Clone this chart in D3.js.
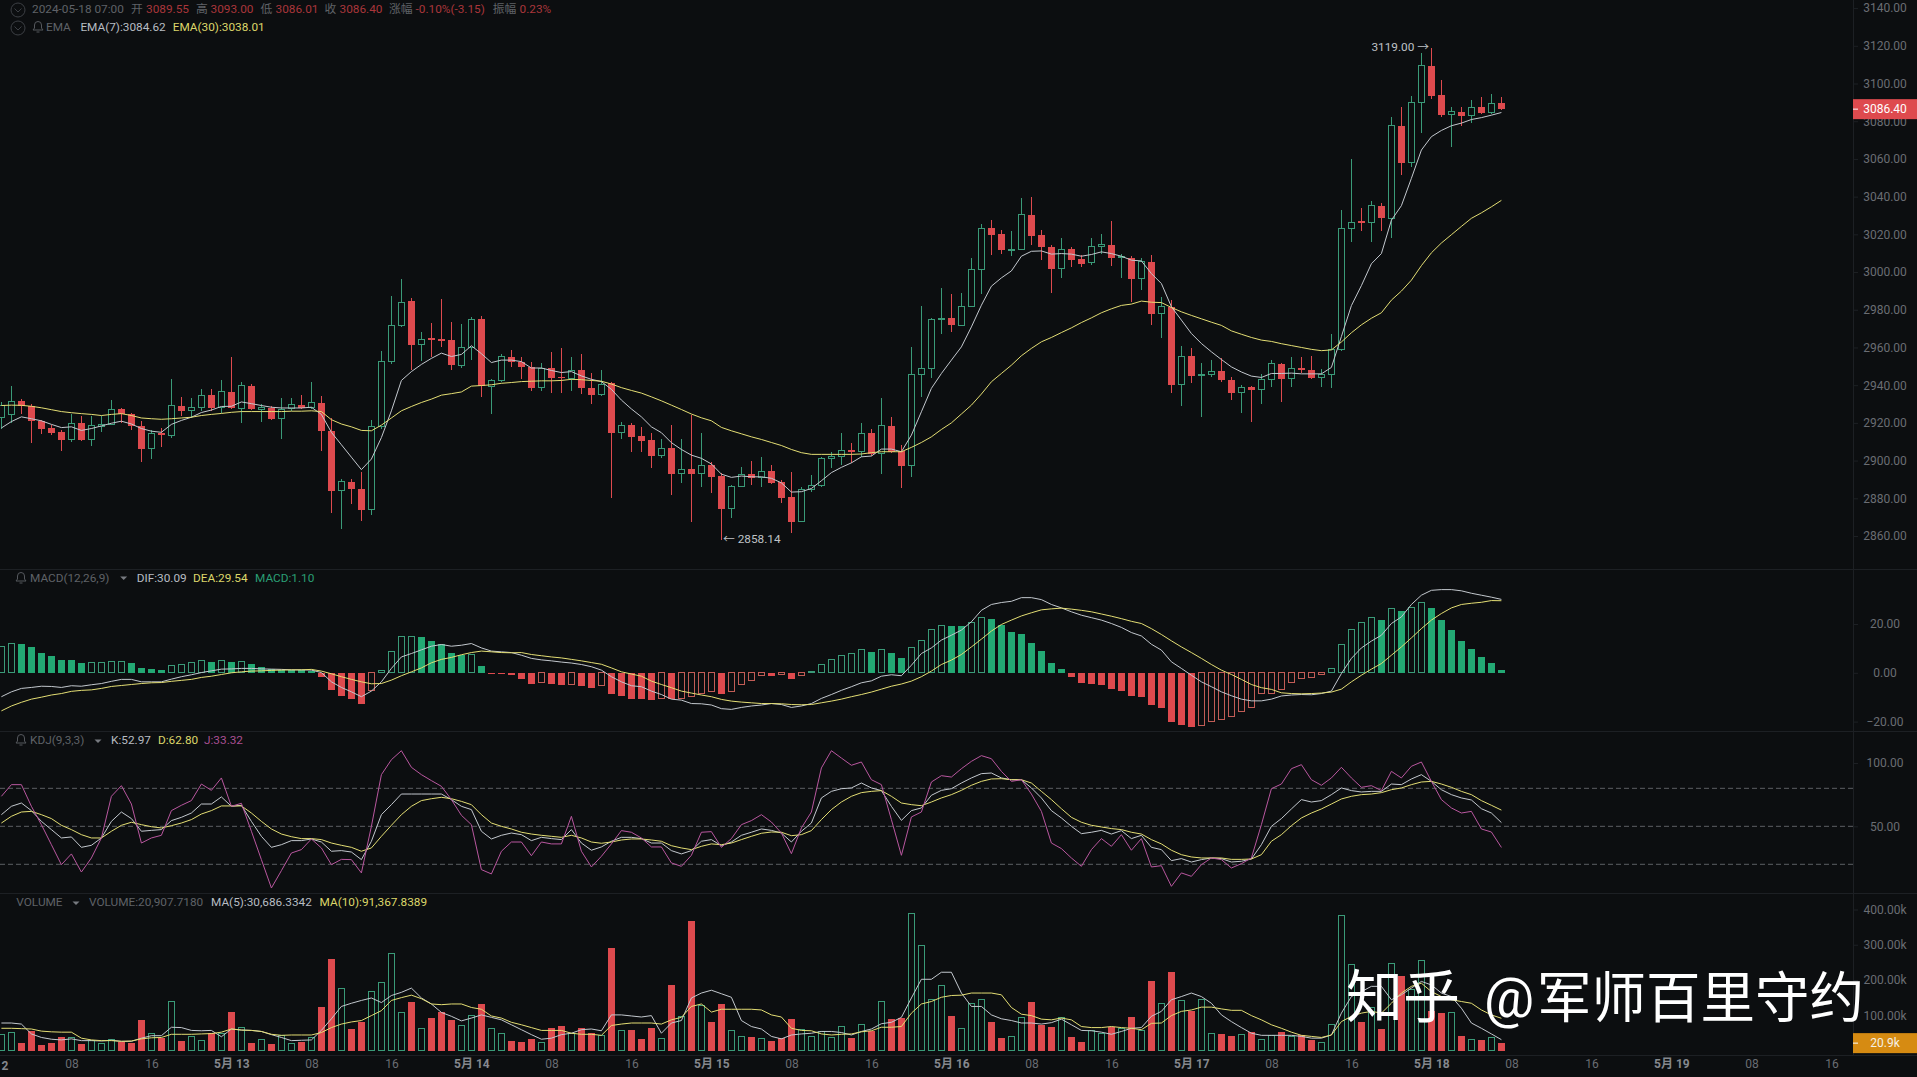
<!DOCTYPE html>
<html>
<head>
<meta charset="utf-8">
<title>ETH 1h</title>
<script src="https://cdn.jsdelivr.net/npm/d3@7"></script>
<style>
	html, body { margin: 0; padding: 0; background: #0c0e10; overflow: hidden; }
	text { font-family: Roboto, "Noto Sans CJK SC", sans-serif; }
</style>
</head>
<body>
<svg id="chart" width="1917" height="1077"></svg>
<script>
/*global d3 */
// hourly candles, index 0 is 05-12 01:00, index 150 is 05-18 07:00
var opens = [
	2922.6,2924.5,2931.5,2928.8,2921.1,2917.1,2915.0,2911.1,2919.8,2911.1,
	2918.2,2919.2,2927.1,2924.5,2918.4,2906.3,2914.7,2913.5,2929.2,2926.4,
	2927.9,2934.7,2928.3,2936.6,2927.7,2939.8,2927.1,2928.1,2922.4,2927.7,
	2929.6,2927.9,2930.8,2915.8,2884.2,2888.9,2884.7,2874,2917.9,2952.3,
	2971.4,2984.5,2961.4,2964.8,2964.3,2963.7,2950.6,2959.9,2975,2939.3,
	2942.3,2955.2,2952.5,2949.5,2938.7,2949.1,2944.4,2943.8,2947.8,2938.7,
	2934.9,2941,2914.7,2918.8,2913,2910.9,2902.6,2906.5,2893,2895.3,
	2893,2897.6,2891.8,2874.5,2886.3,2892.7,2891.1,2894.3,2888.4,2880.5,
	2867.6,2884.4,2886.8,2901,2902.4,2905.6,2904.7,2914.4,2903.8,2918.6,
	2905,2897.3,2945.7,2948.9,2974.8,2975.4,2971.8,2981.6,3001.3,3023.1,
	3020,3011.6,3011.9,3030.5,3019.5,3013.4,3001.7,3012.1,3006.8,3004.9,
	3013.7,3014.6,3007.5,3007.7,2996.4,3005.4,2978,2981.5,2940.2,2955.4,
	2945,2945.5,2947.4,2943,2936.1,2938.8,2937.7,2943,2951.4,2943.3,
	2948.9,2948.3,2944.1,2945.6,2958.7,3023.1,3026.9,3026.2,3035.2,3028.5,
	3077.6,3058,3089.8,3109.4,3094,3083.8,3085.1,3082.8,3087.3,3084.4,3089.55
];
var closes = [
	2929.2,2931.1,2929.2,2921.1,2916.9,2914.7,2910.9,2919.6,2910.9,2918.4,
	2919.2,2927,2924.5,2918.4,2906.1,2914.5,2913.7,2929.2,2926.4,2928.1,
	2934.3,2927.7,2936.6,2927.9,2939.8,2927.1,2928.1,2922.2,2927.3,2929.6,
	2927.9,2930.6,2915.8,2883.8,2888.9,2884.7,2874,2917.9,2952.3,2971.4,
	2984.1,2961.4,2964.3,2963.9,2963.3,2950.6,2959.9,2974.7,2939.3,2942.3,
	2955.2,2952.5,2949.5,2938.7,2949.1,2943.8,2943.8,2947.6,2938.3,2934.9,
	2940.6,2914.7,2918.4,2912.6,2910.3,2902.6,2906.5,2892.8,2895.3,2892.8,
	2897.4,2891.4,2874.5,2886.3,2892.5,2890.9,2894.1,2888.2,2880,2867.6,
	2884.4,2886.8,2901.1,2902.2,2905.2,2904.5,2914.4,2903.5,2918.6,2904.7,
	2897.3,2945.7,2948.9,2975,2975.4,2971.8,2981.7,3001.3,3023.1,3019.7,
	3011.6,3012.1,3030.5,3019,3013.4,3001.7,3011.9,3006.6,3004.5,3013.4,
	3014.6,3007.5,3008.4,2996.4,3005.4,2977.7,2981.5,2940,2955,2944.8,
	2945.7,2947.3,2942.7,2936.1,2939,2937.7,2942.9,2951.4,2943.1,2948.7,
	2947.9,2943.7,2945.6,2959.1,3023.1,3026.2,3026.2,3035.2,3028.5,3077.6,
	3058,3089.8,3109.4,3093.6,3083.4,3084.9,3082.8,3087.1,3084.4,3089.2,3086.4
];
var highs = [
	2931,2939.6,2932.4,2930,2921.5,2918.8,2916,2924.5,2923.6,2923.6,
	2923.6,2932,2928,2925.4,2921.1,2916,2917.3,2943.4,2933.6,2933,
	2937.8,2938.1,2943,2954.8,2941.9,2940.6,2930.2,2929.2,2933,2933,
	2934.9,2941.9,2934,2922.6,2890,2890,2893.8,2921.7,2958.2,2987.4,
	2996.4,2986,2968,2972.8,2985.8,2973.3,2972.2,2976,2976.6,2943.4,
	2956.7,2958.9,2955.2,2952.5,2952,2957.6,2959.5,2954.8,2956.3,2946.3,
	2948.2,2941.6,2920.3,2919.8,2917.9,2914.4,2911.2,2918.8,2911.2,2924.1,
	2914.4,2899.4,2893.2,2887,2896.7,2899.9,2902,2897.6,2889.7,2894.1,
	2886.1,2892.3,2902,2904.7,2914.4,2909.5,2920.1,2917,2933,2922.9,
	2908.2,2960,2981.9,2975.4,2991.8,2988.6,2989,3007.7,3025.4,3027.8,
	3022.5,3021.8,3039.5,3039.9,3022.2,3014.2,3017.8,3013.4,3008.9,3018.1,
	3020.4,3027.1,3009.5,3008.4,3007.7,3008.9,2986.5,2985,2960.7,2959.5,
	2951.5,2953.6,2954.2,2944.1,2940,2939.5,2945.9,2953.3,2951.8,2955.2,
	2954.8,2955.6,2948.5,2967.2,3032.7,3059.9,3034.2,3037.7,3036.6,3082.4,
	3087.6,3093.6,3116.2,3119,3101.7,3087.8,3087.8,3091.1,3093,3094.6,3093
];
var lows = [
	2917,2920,2924.5,2909.4,2914.1,2913.5,2905.2,2909.7,2910.5,2907.5,
	2915,2918.8,2919.8,2916,2899,2900.8,2907.1,2912.2,2923.6,2922.6,
	2926.4,2926.4,2925.5,2927.3,2919.8,2926.8,2920.7,2921.7,2911.2,2926.4,
	2927.3,2927.3,2905.2,2872.4,2863.9,2877.2,2867.7,2871.1,2917,2951,
	2971,2948.2,2952.9,2954.8,2960.5,2948.2,2949.1,2953.3,2933.6,2924.9,
	2941.5,2949.5,2943.4,2936.8,2936.8,2935.9,2935.9,2936.8,2935.3,2930.2,
	2934.3,2880,2911.6,2904.6,2904.7,2896.2,2901.2,2881.7,2887.9,2867.6,
	2885.8,2882.6,2858.14,2869.3,2885.8,2887,2886.1,2887.4,2877.3,2861.4,
	2867.2,2883.5,2886,2895.9,2897.6,2898.9,2901.7,2902.4,2892.8,2903.8,
	2885.2,2891.1,2933.8,2943.6,2967.4,2968.3,2971.8,2981.6,2988.6,3008.9,
	3009.5,3008.4,3011.9,3014.2,3006.3,2989,2997.1,3002.8,3002.8,3003.6,
	3009.5,3003.1,2996.6,2984.2,2990.7,2971.8,2964.8,2935.6,2928.9,2940.9,
	2922.9,2944.4,2941.8,2932.1,2925,2920.6,2930,2938.8,2931.1,2938.8,
	2946.5,2943.1,2938.8,2938.3,2958.1,3015.9,3021.7,3015.9,3021.7,3017.9,
	3051.6,3055.8,3073.8,3091.7,3082.1,3066.1,3077.6,3079,3084,3084,3086.01
];
var ema7 = [
	2917.3,2920.7,2923.2,2922.2,2921.1,2919.2,2917.5,2917.9,2916,2917,
	2918.4,2919.8,2920.9,2919.4,2917,2915.6,2915,2919.2,2921.3,2923,
	2925.5,2926.8,2928.7,2928.8,2931.1,2930.2,2929.2,2928.3,2927.9,2927.9,
	2927.9,2928.3,2924.5,2915,2908.4,2901.8,2895.2,2900.8,2912.2,2926.4,
	2942.5,2947.2,2951,2954.2,2957,2955.2,2956.3,2960.9,2956.7,2952,
	2953.3,2953.3,2952.5,2949.1,2949.1,2947.8,2946.7,2947.2,2944.9,2943.1,
	2941.9,2937.8,2932.1,2927.4,2923.2,2917.9,2914.8,2909.5,2905.9,2902.9,
	2901.2,2898.2,2892.8,2891.1,2891.8,2891.4,2891.4,2890.6,2888.2,2883.3,
	2883.5,2885.2,2889.3,2893.6,2896.4,2898.8,2902,2902.4,2906.1,2906.1,
	2904.7,2913.5,2925.9,2938.3,2946.2,2953.3,2960.3,2970.9,2982.4,2992.5,
	2996.9,3000.6,3008.4,3011,3011.2,3009.5,3009.8,3009.5,3008.4,3009.3,
	3010.7,3009.8,3008.4,3006.3,3005.9,2999.2,2993.9,2981.6,2974.5,2967.4,
	2962.1,2957.7,2953.6,2949.7,2947,2944.8,2944.1,2946.2,2946.2,2946.4,
	2946,2946,2946,2949.4,2965.8,2982.2,2992.8,3004.4,3009.8,3027.5,
	3035.2,3049.7,3064.7,3071.8,3075.1,3077.6,3079,3080.9,3081.9,3083.2,3084.62
];
var ema30 = [
	2929.2,2929.4,2929.3,2928.8,2928,2927,2926,2925.4,2924.9,2924.5,
	2923.9,2924.5,2924.9,2923.9,2922.6,2922.2,2921.9,2922.2,2922.6,2923,
	2923.9,2924.5,2925,2925.6,2926,2926,2926,2926,2926,2926.2,
	2926.2,2926.4,2926,2921.7,2919.4,2917.9,2916,2915.8,2918.8,2922.6,
	2926.4,2928.7,2930.8,2932.6,2934.7,2935.5,2936.4,2939.5,2939.8,2940.2,
	2941,2941.4,2941.9,2942.1,2942.3,2942.3,2942.5,2943.1,2942.9,2942.5,
	2942.1,2940.6,2938.7,2937.2,2935.8,2933.8,2931.7,2929.4,2927.1,2924.7,
	2922.7,2921.1,2917.6,2915.8,2914.2,2912.6,2911.2,2909.6,2908,2905.9,
	2904.2,2903.3,2903.3,2903.3,2903.3,2903.3,2903.5,2904.2,2904.7,2904.7,
	2904.7,2907,2909.6,2912.6,2916.5,2920,2924.7,2929.4,2935.3,2941.8,
	2946.2,2950.6,2955.6,2959.5,2963,2965.3,2967.9,2970.4,2973.2,2975.7,
	2978.4,2980.5,2982.3,2983,2984.6,2984,2983.8,2981.2,2978.9,2977,
	2975.2,2973.4,2971.7,2968.8,2967,2965.3,2963.9,2963.2,2962,2961,
	2960,2959,2958.3,2958.7,2962.9,2967.8,2972,2975.5,2978.4,2985.1,
	2989.9,2995.7,3003.4,3010.2,3015.4,3019.8,3024.2,3028.5,3031.4,3034.6,3038.01
];
var dif = [
	-9.8,-7.8,-6.4,-6,-5.5,-5.6,-6,-5.3,-5.5,-4.9,
	-4.4,-3.5,-2.7,-2.7,-3.7,-3.7,-3.7,-2.6,-1.6,-0.8,
	0.1,0.8,1.5,1.6,1.8,1.8,1.6,1.5,1.4,1.2,
	1.2,1.1,0.1,-3.7,-6,-7.8,-9.8,-7.5,-3.7,1.8,
	6.5,7.9,9.4,10.9,11.6,10.9,11.3,12,10.2,8.9,
	8.6,8.3,7.2,5.9,5.3,4.9,4.4,4,3.4,2.5,
	1.1,-1.6,-3.7,-5.3,-5.7,-7.5,-8.9,-10.8,-11.2,-12.6,
	-12.7,-13.2,-14.7,-15,-14.2,-13.6,-13.2,-12.6,-13,-14.2,
	-13.6,-12.6,-10.5,-8.9,-7.2,-5.7,-4.1,-3.3,-1.4,-0.8,
	-1.2,3.1,7.9,10.2,13.4,15.4,17.5,20.9,25.6,28,
	28.8,29.3,30.8,30.8,30,28,26.6,25,23.6,22.6,
	21.6,20.2,18.6,16.5,15.1,11.7,9.3,4.5,1.8,-1,
	-3.7,-5.7,-7.8,-9.4,-10.8,-11.5,-11.5,-10.8,-9.5,-9.1,
	-8.9,-9,-8.5,-7.5,-0.3,5.9,10.2,13,15.4,20.2,
	22.9,28,31.8,33.8,34.1,34.1,33.6,32.6,31.8,31,30.09
];
var dea = [
	-15.6,-13.6,-12.1,-10.8,-10,-9.1,-8.5,-7.6,-7.2,-7,
	-6.4,-5.6,-5.2,-4.8,-4.4,-4.1,-4,-3.5,-3.1,-2.7,
	-1.9,-1.4,-0.7,0,0.4,0.7,0.8,1,1.1,1.2,
	1.2,1.4,0.7,-0.4,-1.6,-2.7,-3.7,-4.5,-4.4,-3,
	-1.2,0.4,2,4.1,5.5,6.3,7.4,8.3,8.9,8.6,
	8.3,8.2,8.3,7.5,7,6.5,6.1,5.5,4.9,4.2,
	3.5,2,0.4,-0.5,-1.4,-3.4,-4.8,-6.1,-7.5,-8.3,
	-9.1,-9.8,-10.9,-11.6,-12,-12.3,-12.6,-12.6,-12.7,-13,
	-13.1,-13,-12.3,-11.6,-10.8,-9.8,-8.9,-7.9,-6.7,-5.5,
	-4.6,-3.4,-1.6,0.7,3.4,5.2,7.5,10.6,13.8,17.1,
	19.8,21.6,23.3,24.6,25.8,26.2,26.5,26.1,25.6,25,
	24.1,23.2,22.2,21.1,20.2,18.1,15.7,13.1,10.6,8.3,
	5.9,3.4,1.1,-0.7,-2.7,-4.8,-6.1,-6.8,-8.2,-8.5,
	-8.6,-8.5,-8.3,-7.9,-6.7,-3.7,-1,1.5,3.8,7.2,
	10.6,14.3,18.1,21.6,24.3,26.6,28,28.5,28.9,29.6,29.54
];
var macdHist = [
	10.9,12,11.7,10.5,8.3,6.8,5.2,5.1,4,4.1,
	4.2,4.6,4.8,4,1.9,1.5,1,3,3.5,4.2,
	5,4.6,5,4.4,4.5,3.5,2.5,1.6,1.1,1,
	0.95,0.9,-1.6,-7.1,-9.4,-10.6,-12.7,-7.2,1,8.7,
	14.9,15,14.6,13.2,11.6,8.3,7.5,7.6,2.6,-0.5,
	-0.6,-0.7,-2.6,-4.6,-4.1,-4.6,-5,-4.6,-5.5,-6.3,
	-5.3,-8.5,-9.7,-10.8,-10.8,-11.2,-10.5,-10.9,-10.5,-9.8,
	-8.5,-7.5,-8.7,-7.5,-4.8,-3.3,-1.2,-1.3,-0.7,-2.6,
	-1.2,0.7,3.4,5.5,7.1,7.9,9.5,8.7,9.5,8.3,
	5.9,10.4,13.2,17.7,19.4,19.3,19,20.6,22.6,22.2,
	19.5,16.6,15.8,12.4,8.9,4,1.5,-1.6,-4.2,-4.6,
	-5,-6.7,-7.5,-9.4,-10,-13.1,-14.5,-20.2,-21.4,-22.1,
	-21.7,-20.1,-19,-18,-16,-14.3,-8.5,-8.3,-6.7,-4,
	-2.3,-1.9,-0.7,1.8,11.6,17.7,20.6,22.6,21.8,26.3,
	25.2,26.7,28.8,26.5,21.8,17.5,13,9.7,6.3,4,1.1
];
var kdjK = [
	59.2,65.8,68.4,62.4,53.9,47.4,40.8,41.6,33.4,35,
	40.8,53.9,61.3,56.1,46.1,46.8,47.4,54.5,57.1,60.5,
	67.6,67.6,73.2,65.8,66.6,53.9,42.1,33.4,35.5,38.7,
	38.7,40,37.6,30.3,30.8,29.7,23.7,38.2,59.2,67.1,
	75.5,75.5,75.5,75.5,75.5,71.1,65.8,63.2,46.1,40,
	42.9,44.7,43.4,38.7,41.3,40.3,39.5,47.4,36.8,31.1,
	33.7,38.2,41.3,41.3,40.3,36.8,36.8,30.8,28.2,30.8,
	38.2,39.5,34.7,37.6,42.9,45.3,47.9,46.8,44.7,37.6,
	46.1,52.6,72.4,77.6,79.7,80.3,84.2,80.3,78.2,65.8,
	54.7,62.4,64.5,74.5,78.4,79.7,84.2,88.2,91.6,92.1,
	88.2,86.8,86.8,80.3,72.4,62.4,56.6,50,44.2,45.3,
	46.8,43.9,46.6,40.3,42.9,33.4,31.6,22.9,24.5,21.8,
	23.7,25,24.5,21.8,22.4,24.2,35.5,50,56.1,63.7,
	71.1,69.2,70.3,75,80.3,78.2,77.1,77.6,77.6,83.4,
	82.9,87.4,90.8,85.5,78.9,75,72.4,70.8,63.9,60.5,52.97
];
var kdjD = [
	52.6,57.9,61.3,61.8,59.2,56.1,50.8,47.4,43.4,40.8,
	40.8,46.1,50.8,53.2,51.3,49.7,48.7,50.5,52.6,55.3,
	59.7,62.4,66.1,66.1,66.1,60.5,53.9,47.9,43.9,41.8,
	40.3,40.3,39.5,36.8,35,33.4,30.3,32.9,42.1,50.8,
	59.2,65.8,70.3,71.8,72.9,71.8,69.7,67.1,59.2,52.6,
	50,47.9,45.3,43.9,42.9,42.1,41.3,42.9,40.8,37.6,
	36.6,37.6,39.2,40,40,39.2,38.2,34.7,32.9,31.6,
	34.2,36.1,35.5,36.8,39.5,42.1,44.5,45.5,45.3,42.6,
	43.4,46.6,55.3,63.2,69.2,73.7,76.6,77.6,78.2,73.7,
	68.4,67.1,66.3,69.2,72.4,75,78.4,82.4,85.5,87.4,
	87.6,86.8,86.8,84.2,77.6,71.1,63.9,57.1,53.2,50.8,
	49.5,48.2,47.4,45.3,43.9,39.5,36.1,31.1,27.6,25.8,
	25,25,25,23.9,23.9,24.2,27.6,38.2,43.4,50.5,
	56.6,60.5,63.7,67.6,71.6,73.7,75,75.5,76.6,78.9,
	80.3,82.9,85,85.5,83.4,80.8,77.6,75,70.3,66.6,62.8
];
var kdjJ = [
	73.7,82.9,82.9,65.8,51.3,35.5,19.7,28.2,13.9,25,
	40.8,73.7,82.1,67.6,36.8,40.8,42.9,62.4,66.6,70.3,
	83.4,78.4,88.2,65.8,68.2,46.1,23.7,1.3,15,28.9,
	31.6,40,32.9,19.7,23.9,23.7,13.2,50,90.8,102.6,
	109.7,96.6,90.8,86.1,81.6,71.1,58.7,51.3,15.8,12.4,
	30.3,37.6,37.6,26.8,37.6,36.1,36.1,57.9,30.3,17.9,
	26.3,36.1,46.6,45.3,40.8,33.7,33.7,21.1,18.4,27.1,
	45.3,45.8,33.4,40.3,51.3,54.5,59.2,53.4,44.7,28.4,
	48.7,61.3,96.1,109.7,103.9,98.2,100.8,86.8,82.9,55.3,
	27.1,57.4,61.3,85,90,88.9,95.5,101.3,105.8,103.4,
	93.4,85.5,86.8,75.5,61.8,36.8,32.4,25,18.4,31.6,
	40.3,34.2,43.4,31.1,40.3,17.9,18.9,2.6,13.2,10.5,
	19.7,25,23.7,17.1,20.5,25,51.3,79.7,83.4,95.5,
	98.7,86.8,82.4,88.2,96.6,88.2,80.8,82.1,78.2,93.4,
	88.2,97.4,100.8,85.5,71.1,64.5,60.5,61.8,47.9,45.5,33.32
];
// volume in thousands
var volumes = [
	46,52,22,54,15,22,38,37,19,29,
	21,31,23,22,87,49,35,140,27,41,
	29,49,47,110,65,21,32,19,43,21,
	24,37,124,260,177,61,82,167,194,276,
	109,138,63,92,108,87,72,99,132,63,
	49,26,25,33,24,63,70,49,63,49,
	42,291,58,59,33,63,35,186,97,368,
	128,81,132,58,41,39,35,27,35,90,
	60,39,54,38,69,35,75,56,140,90,
	93,390,299,145,185,98,61,134,146,81,
	36,41,95,138,71,66,95,39,25,58,
	48,67,61,96,58,198,134,222,143,113,
	145,49,47,42,46,52,32,42,53,39,
	44,30,24,75,384,245,82,123,61,248,
	210,172,256,111,106,109,41,32,30,36,20.9
];
var volMa5 = [
	78,78,75,47,37,32,30,33,28,28,
	27,29,26,26,35,42,42,66,65,57,
	56,57,39,61,58,57,54,45,37,28,
	29,30,57,90,125,134,142,149,136,156,
	165,177,149,132,108,97,84,92,101,94,
	87,73,59,45,32,35,45,49,59,61,
	56,101,101,98,95,99,49,78,85,149,
	163,171,161,151,85,68,61,40,33,44,
	47,49,54,54,51,44,54,61,76,80,
	94,149,202,202,222,222,163,125,125,101,
	90,85,78,78,75,79,89,73,57,56,
	52,46,54,63,65,97,111,144,153,163,
	153,134,101,82,65,49,43,43,43,43,
	40,35,35,44,106,153,167,182,182,144,
	158,177,196,186,163,153,120,78,63,47,30.69
];
var volMa10 = [
	63,63,62,61,55,53,52,52,35,30,
	28,28,26,27,33,36,37,46,46,46,
	47,48,52,61,58,57,54,46,43,44,
	44,44,51,65,75,81,85,99,113,142,
	150,157,147,132,130,132,132,122,117,98,
	92,80,73,65,57,57,57,49,46,46,
	43,71,75,78,78,78,75,87,94,125,
	132,109,117,117,117,117,115,101,95,63,
	57,56,47,44,46,47,53,56,66,66,
	68,106,132,139,151,156,157,163,163,163,
	158,122,103,99,89,87,92,87,68,65,
	65,68,65,63,59,77,78,99,111,115,
	123,123,118,114,114,99,87,73,63,52,
	43,40,37,44,82,97,106,111,106,134,
	163,182,191,167,153,144,139,134,115,101,91.37
];

var priceTicks = [3140,3120,3100,3080,3060,3040,3020,3000,2980,2960,2940,2920,2900,2880,2860];
var macdTicks = [20,0,-20];
var kdjTicks = [100,50];
var kdjLevels = [80,50,20];
var volTicks = [400,300,200,100];
// one tick every 8 hours from 05-13 08:00 backwards to the first one on screen
var timeLabels = ['08','16','5月 13','08','16','5月 14','08','16','5月 15','08','16','5月 16','08','16','5月 17','08','16','5月 18','08','16','5月 19','08','16'];

var headerLabels = ['2024-05-18 07:00','开','3089.55','高','3093.00','低','3086.01','收','3086.40','涨幅','-0.10%(-3.15)','振幅','0.23%'];
var headerX = [32,131,146,196,210.6,260.4,275.5,324.5,339.6,389,415.5,492.7,519.6];

(function () {
	'use strict';
	var BG = '#0c0e10',
		RED = '#de4a4e',
		GREEN = '#23a974',
		HOLLOW_GREEN = '#3a9a78',
		HOLLOW_RED = '#c25c56',
		LINE_WHITE = '#c3c8ce',
		LINE_YELLOW = '#e4de74',
		LINE_PINK = '#b9579f',
		GRID = '#1d2024',
		AXIS_TEXT = '#6a6d73',
		AXIS_RIGHT = 1853,
		svg = d3.select('#chart'),
		bars = d3.range(opens.length),
		xScale, yPrice, yMacd, yKdj, yVol,
		defs, clipped, candles, macdG, volG,
		drawLine, drawAxis, drawBell, drawCheck, drawCaret, drawLabel;

	xScale = d3.scaleLinear().domain([0, 150]).range([1.4, 1501.4]);
	yPrice = d3.scaleLinear().domain([3120, 2860]).range([45.8, 536]);
	yMacd = d3.scaleLinear().domain([20, -20]).range([624, 721.6]);
	yKdj = d3.scaleLinear().domain([100, 20]).range([763, 864.3]);
	yVol = d3.scaleLinear().domain([0, 400]).range([1050.5, 909.5]);

	svg.append('rect').attr('width', 1917).attr('height', 1077).attr('fill', BG);

	// keep each indicator inside its own pane
	defs = svg.append('defs');
	defs.append('clipPath').attr('id', 'plot-clip').append('rect')
		.attr('width', AXIS_RIGHT).attr('height', 1055);

	// pane separators
	svg.selectAll('line.sep').data([569, 731, 893, 1055]).enter().append('line')
		.attr('class', 'sep')
		.attr('x1', 0).attr('x2', 1917)
		.attr('y1', function (d) { return d + 0.5; })
		.attr('y2', function (d) { return d + 0.5; })
		.attr('stroke', GRID);
	svg.append('line')
		.attr('x1', AXIS_RIGHT + 0.5).attr('x2', AXIS_RIGHT + 0.5)
		.attr('y1', 0).attr('y2', 1055)
		.attr('stroke', GRID);

	clipped = svg.append('g').attr('clip-path', 'url(#plot-clip)');

	// kdj reference levels
	clipped.selectAll('line.level').data(kdjLevels).enter().append('line')
		.attr('class', 'level')
		.attr('x1', 0).attr('x2', AXIS_RIGHT)
		.attr('y1', function (d) { return yKdj(d); })
		.attr('y2', function (d) { return yKdj(d); })
		.attr('stroke', '#5c5f63')
		.attr('stroke-dasharray', '5,3');

	// candles
	candles = clipped.append('g').attr('shape-rendering', 'crispEdges');
	candles.selectAll('line').data(bars).enter().append('line')
		.attr('x1', function (i) { return Math.round(xScale(i)) + 0.5; })
		.attr('x2', function (i) { return Math.round(xScale(i)) + 0.5; })
		.attr('y1', function (i) { return yPrice(highs[i]); })
		.attr('y2', function (i) { return yPrice(lows[i]); })
		.attr('stroke', function (i) { return closes[i] >= opens[i] ? HOLLOW_GREEN : RED; });
	candles.selectAll('rect').data(bars).enter().append('rect')
		.attr('x', function (i) { return Math.round(xScale(i)) - 3 + (closes[i] >= opens[i] ? 0.5 : 0); })
		.attr('width', function (i) { return closes[i] >= opens[i] ? 6 : 7; })
		.attr('y', function (i) { return yPrice(Math.max(opens[i], closes[i])); })
		.attr('height', function (i) { return Math.max(1, Math.abs(yPrice(opens[i]) - yPrice(closes[i]))); })
		.attr('fill', function (i) { return closes[i] >= opens[i] ? BG : RED; })
		.attr('stroke', function (i) { return closes[i] >= opens[i] ? HOLLOW_GREEN : 'none'; });

	drawLine = function (parent, values, yScale, color) {
		var line = d3.line()
			.x(function (d, i) { return xScale(i); })
			.y(function (d) { return yScale(d); });
		parent.append('path')
			.attr('d', line(values))
			.attr('fill', 'none')
			.attr('stroke', color)
			.attr('stroke-width', 1);
	};

	drawLine(clipped, ema7, yPrice, LINE_WHITE);
	drawLine(clipped, ema30, yPrice, LINE_YELLOW);

	// macd histogram: hollow whenever the value rose against the previous hour
	macdG = clipped.append('g').attr('shape-rendering', 'crispEdges');
	macdG.selectAll('rect').data(bars).enter().append('rect')
		.each(function (i) {
			var v = macdHist[i],
				prev = i > 0 ? macdHist[i - 1] : 0,
				hollow = v > prev,
				color = v >= 0 ? (hollow ? HOLLOW_GREEN : GREEN) : (hollow ? HOLLOW_RED : RED),
				top = Math.min(yMacd(v), yMacd(0)),
				h = Math.max(1, Math.abs(yMacd(v) - yMacd(0)));
			d3.select(this)
				.attr('x', Math.round(xScale(i)) - 3 + (hollow ? 0.5 : 0))
				.attr('width', hollow ? 6 : 7)
				.attr('y', top)
				.attr('height', h)
				.attr('fill', hollow ? 'none' : color)
				.attr('stroke', hollow ? color : 'none');
		});
	drawLine(clipped, dif, yMacd, LINE_WHITE);
	drawLine(clipped, dea, yMacd, LINE_YELLOW);

	drawLine(clipped, kdjK, yKdj, LINE_WHITE);
	drawLine(clipped, kdjD, yKdj, LINE_YELLOW);
	drawLine(clipped, kdjJ, yKdj, LINE_PINK);

	// volume follows the candle direction
	volG = clipped.append('g').attr('shape-rendering', 'crispEdges');
	volG.selectAll('rect').data(bars).enter().append('rect')
		.attr('x', function (i) { return Math.round(xScale(i)) - 3 + (closes[i] >= opens[i] ? 0.5 : 0); })
		.attr('width', function (i) { return closes[i] >= opens[i] ? 6 : 7; })
		.attr('y', function (i) { return yVol(volumes[i]); })
		.attr('height', function (i) { return yVol(0) - yVol(volumes[i]); })
		.attr('fill', function (i) { return closes[i] >= opens[i] ? 'none' : RED; })
		.attr('stroke', function (i) { return closes[i] >= opens[i] ? HOLLOW_GREEN : 'none'; });
	drawLine(clipped, volMa5, yVol, LINE_WHITE);
	drawLine(clipped, volMa10, yVol, LINE_YELLOW);

	// right axes
	drawAxis = function (scale, ticks, format) {
		var g = svg.append('g')
			.attr('transform', 'translate(' + AXIS_RIGHT + ',0)')
			.call(d3.axisRight(scale).tickValues(ticks).tickSize(5).tickPadding(0).tickFormat(format));
		g.select('.domain').remove();
		g.selectAll('.tick line').attr('stroke', GRID);
		g.selectAll('.tick text')
			.attr('x', 32)
			.attr('text-anchor', 'middle')
			.attr('fill', AXIS_TEXT)
			.attr('font-size', 12)
			.attr('font-family', 'Roboto');
	};
	drawAxis(yPrice, priceTicks, d3.format('.2f'));
	drawAxis(yMacd, macdTicks, d3.format('.2f'));
	drawAxis(yKdj, kdjTicks, d3.format('.2f'));
	drawAxis(yVol, volTicks, function (d) { return d + '.00k'; });

	// time axis
	(function () {
		var g = svg.append('g')
			.attr('transform', 'translate(0,1055)')
			.call(d3.axisBottom(xScale)
				.tickValues(timeLabels.map(function (d, i) { return 7 + i * 8; }))
				.tickSize(0).tickPadding(4)
				.tickFormat(function (d, i) { return timeLabels[i]; }));
		g.select('.domain').remove();
		g.selectAll('.tick text')
			.attr('fill', function (d, i) { return timeLabels[i].indexOf('月') > -1 ? '#85888e' : AXIS_TEXT; })
			.attr('font-weight', function (d, i) { return timeLabels[i].indexOf('月') > -1 ? 700 : 400; })
			.attr('font-size', 12)
			.attr('font-family', 'Roboto, "Noto Sans CJK SC", sans-serif');
	}());

	// price and volume tags
	svg.append('rect').attr('x', AXIS_RIGHT).attr('y', yPrice(closes[150]) - 10).attr('width', 64).attr('height', 20).attr('fill', RED);
	svg.append('rect').attr('x', AXIS_RIGHT).attr('y', yVol(volumes[150]) - 10).attr('width', 64).attr('height', 20).attr('fill', '#d68b12');
	svg.append('line').attr('x1', AXIS_RIGHT).attr('x2', AXIS_RIGHT + 5)
		.attr('y1', yPrice(closes[150])).attr('y2', yPrice(closes[150])).attr('stroke', '#fff');
	svg.append('line').attr('x1', AXIS_RIGHT).attr('x2', AXIS_RIGHT + 5)
		.attr('y1', yVol(volumes[150])).attr('y2', yVol(volumes[150])).attr('stroke', '#fff');

	drawLabel = function (x, y, str, color, size, anchor) {
		return svg.append('text')
			.attr('x', x).attr('y', y)
			.attr('dy', '0.35em')
			.attr('fill', color)
			.attr('font-size', size || 11.8)
			.attr('text-anchor', anchor || 'start')
			.text(str);
	};

	drawLabel(1885, yPrice(closes[150]), d3.format('.2f')(closes[150]), '#fff', 12, 'middle');
	drawLabel(1885, yVol(volumes[150]), d3.format('.1f')(volumes[150]) + 'k', '#f5f0e6', 12, 'middle');

	// what is left on screen of the 5月 12 label
	drawLabel(5, 1065.5, '2', '#85888e', 12, 'middle').attr('font-weight', 700);

	// high and low markers
	drawLabel(1429, yPrice(highs[143]) - 1, '3119.00 →', '#bfc2c6', 11.8, 'end');
	drawLabel(723, yPrice(lows[72]) - 0.5, '← 2858.14', '#bfc2c6', 11.8);

	// legend icons
	drawCheck = function (x, y) {
		svg.append('circle').attr('cx', x).attr('cy', y).attr('r', 7)
			.attr('fill', 'none').attr('stroke', '#3c3f44');
		svg.append('path')
			.attr('d', d3.line()([[x - 3.5, y - 1.5], [x, y + 2], [x + 3.5, y - 1.5]]))
			.attr('fill', 'none').attr('stroke', '#3c3f44');
	};
	drawBell = function (x, y) {
		var bell = d3.path();
		bell.moveTo(x - 5, y + 3);
		bell.lineTo(x - 3.5, y + 1);
		bell.lineTo(x - 3.5, y - 2);
		bell.quadraticCurveTo(x - 3.5, y - 5.5, x, y - 5.5);
		bell.quadraticCurveTo(x + 3.5, y - 5.5, x + 3.5, y - 2);
		bell.lineTo(x + 3.5, y + 1);
		bell.lineTo(x + 5, y + 3);
		bell.closePath();
		bell.moveTo(x - 1.5, y + 5);
		bell.lineTo(x + 1.5, y + 5);
		svg.append('path').attr('d', bell.toString())
			.attr('fill', 'none').attr('stroke', '#55585d');
	};
	drawCaret = function (x, y) {
		svg.append('path')
			.attr('d', d3.line()([[x - 3.5, y - 1.5], [x + 3.5, y - 1.5], [x, y + 2]]) + 'Z')
			.attr('fill', '#777a80');
	};

	// header line
	headerLabels.forEach(function (str, i) {
		var dim = '#5f6267';
		drawLabel(headerX[i], 9, str, (i > 0 && i % 2 === 0) || i === 10 || i === 12 ? '#a9363b' : dim);
	});
	drawCheck(18, 10);
	drawCheck(18, 28);
	drawBell(38, 27);
	drawLabel(46, 27, 'EMA', '#5f6267');
	drawLabel(80.4, 27, 'EMA(7):3084.62', '#b7bcc2');
	drawLabel(172.7, 27, 'EMA(30):3038.01', '#dcd76a');

	// macd legend
	drawBell(21, 578);
	drawLabel(30, 578, 'MACD(12,26,9)', '#5f6267');
	drawCaret(123.7, 578);
	drawLabel(136.7, 578, 'DIF:30.09', '#b7bcc2');
	drawLabel(193, 578, 'DEA:29.54', '#dcd76a');
	drawLabel(255, 578, 'MACD:1.10', '#2a9e74');

	// kdj legend
	drawBell(21, 740);
	drawLabel(30, 740, 'KDJ(9,3,3)', '#5f6267');
	drawCaret(98, 741);
	drawLabel(111, 740, 'K:52.97', '#b7bcc2');
	drawLabel(158, 740, 'D:62.80', '#dcd76a');
	drawLabel(204, 740, 'J:33.32', '#a94f92');

	// volume legend
	drawLabel(16.3, 902, 'VOLUME', '#5f6267');
	drawCaret(76, 903);
	drawLabel(89, 902, 'VOLUME:20,907.7180', '#5f6267');
	drawLabel(211, 902, 'MA(5):30,686.3342', '#b7bcc2');
	drawLabel(319.6, 902, 'MA(10):91,367.8389', '#dcd76a');

	// watermark
	svg.append('text')
		.attr('x', 1346).attr('y', 1017)
		.attr('fill', '#fff')
		.attr('font-size', 57)
		.attr('font-family', '"Noto Sans CJK SC"')
		.text('知乎');
	svg.append('text')
		.attr('x', 1484).attr('y', 1017)
		.attr('fill', '#fff')
		.attr('font-size', 56)
		.attr('font-family', '"Noto Sans CJK SC"')
		.text('@');
	svg.append('text')
		.attr('x', 1537).attr('y', 1017)
		.attr('fill', '#fff')
		.attr('font-size', 54.5)
		.attr('font-family', '"Noto Sans CJK SC"')
		.text('军师百里守约');
}());
</script>
</body>
</html>
